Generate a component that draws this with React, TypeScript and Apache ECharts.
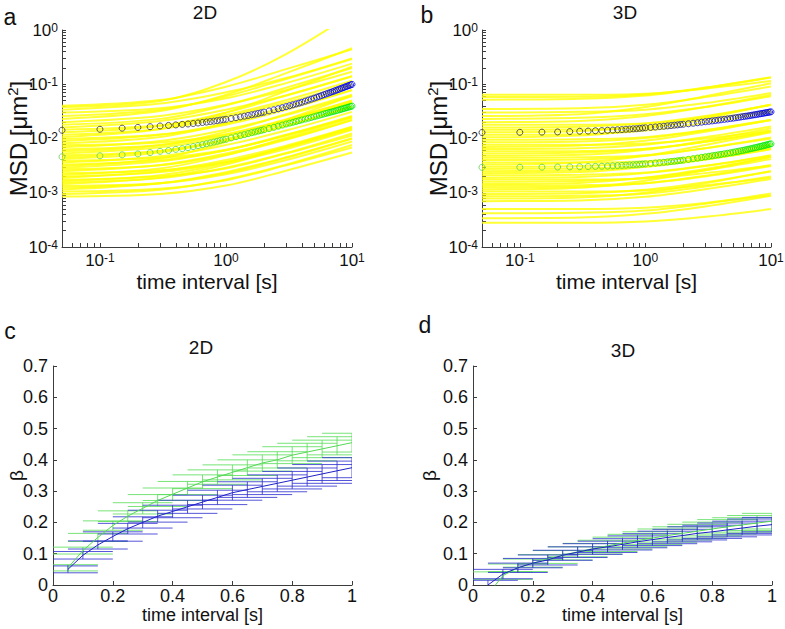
import React, { useEffect, useRef } from 'react';
import * as echarts from 'echarts';

const FONT = '"Liberation Sans", Arial, Helvetica, sans-serif';

// ---- panel a/b : individual MSD tracks (values at these lag times) ----
const trackTimes = [0.05, 0.3, 1, 3, 10];
const tracks2D = [
  [8.5e-4, 9.5e-4, 1.36e-3, 2.55e-3, 5.5e-3],
  [9.5e-4, 1.14e-3, 1.76e-3, 3.3e-3, 7.6e-3],
  [1.05e-3, 1.18e-3, 1.7e-3, 3.2e-3, 6.8e-3],
  [1.15e-3, 1.5e-3, 2.4e-3, 4.5e-3, 1.0e-2],
  [1.25e-3, 1.5e-3, 2.3e-3, 4.4e-3, 1.0e-2],
  [1.35e-3, 1.5e-3, 2.2e-3, 4.0e-3, 8.8e-3],
  [1.45e-3, 1.9e-3, 3.3e-3, 7.0e-3, 1.6e-2],
  [1.55e-3, 1.86e-3, 2.9e-3, 5.4e-3, 1.24e-2],
  [1.65e-3, 2.1e-3, 3.5e-3, 6.4e-3, 1.45e-2],
  [1.75e-3, 2.0e-3, 2.8e-3, 5.3e-3, 1.14e-2],
  [1.9e-3, 2.5e-3, 4.0e-3, 7.4e-3, 1.65e-2],
  [2.0e-3, 2.4e-3, 3.7e-3, 7.0e-3, 1.6e-2],
  [2.15e-3, 2.8e-3, 4.9e-3, 1.03e-2, 2.4e-2],
  [2.3e-3, 2.6e-3, 3.7e-3, 6.9e-3, 1.5e-2],
  [2.5e-3, 3.25e-3, 5.3e-3, 9.8e-3, 2.2e-2],
  [2.7e-3, 3.2e-3, 5.0e-3, 9.5e-3, 2.2e-2],
  [2.9e-3, 3.8e-3, 6.1e-3, 1.13e-2, 2.5e-2],
  [3.1e-3, 4.3e-3, 8.7e-3, 2.2e-2, 6.2e-2],
  [3.3e-3, 4.0e-3, 6.1e-3, 1.15e-2, 2.6e-2],
  [3.6e-3, 4.7e-3, 7.6e-3, 1.4e-2, 3.1e-2],
  [3.9e-3, 4.4e-3, 6.2e-3, 1.17e-2, 2.5e-2],
  [4.2e-3, 5.5e-3, 9.7e-3, 2.0e-2, 4.6e-2],
  [4.5e-3, 5.9e-3, 9.5e-3, 1.75e-2, 3.9e-2],
  [4.9e-3, 5.9e-3, 9.1e-3, 1.7e-2, 3.9e-2],
  [5.3e-3, 6.9e-3, 1.1e-2, 2.1e-2, 4.6e-2],
  [5.8e-3, 7.5e-3, 1.33e-2, 2.8e-2, 6.4e-2],
  [6.3e-3, 7.6e-3, 1.17e-2, 2.2e-2, 5.0e-2],
  [6.9e-3, 9.0e-3, 1.45e-2, 2.7e-2, 6.0e-2],
  [7.5e-3, 8.4e-3, 1.2e-2, 2.25e-2, 4.9e-2],
  [8.2e-3, 1.07e-2, 1.9e-2, 3.9e-2, 9.0e-2],
  [9.0e-3, 1.17e-2, 1.9e-2, 3.5e-2, 7.8e-2],
  [9.8e-3, 1.18e-2, 1.8e-2, 3.4e-2, 7.8e-2],
  [1.07e-2, 1.5e-2, 3.0e-2, 7.5e-2, 0.21],
  [1.17e-2, 1.5e-2, 2.5e-2, 4.6e-2, 0.1],
  [1.3e-2, 1.7e-2, 3.0e-2, 6.2e-2, 0.14],
  [1.45e-2, 1.75e-2, 2.7e-2, 5.1e-2, 0.116],
  [1.6e-2, 2.1e-2, 3.4e-2, 6.2e-2, 0.14],
  [1.8e-2, 2.3e-2, 4.1e-2, 8.6e-2, 0.2],
  [2.0e-2, 2.6e-2, 4.2e-2, 7.8e-2, 0.17],
  [2.3e-2, 3.2e-2, 6.4e-2, 0.16, 0.46],
  [2.6e-2, 3.4e-2, 6.0e-2, 0.125, 0.29],
  [3.0e-2, 3.6e-2, 5.5e-2, 0.105, 0.24],
  [3.4e-2, 4.4e-2, 7.1e-2, 0.13, 0.3],
  [3.8e-2, 4.9e-2, 0.11, 0.36, 2.0],
  [4.0e-2, 5.1e-2, 9.0e-2, 0.19, 0.44],
];
const tracks3D = [
  [2.8e-4, 2.8e-4, 2.95e-4, 3.6e-4, 5.0e-4],
  [3.4e-4, 3.5e-4, 4.1e-4, 5.6e-4, 8.8e-4],
  [4.2e-4, 4.3e-4, 4.7e-4, 6.3e-4, 9.7e-4],
  [5.0e-4, 5.0e-4, 5.3e-4, 6.5e-4, 9.0e-4],
  [7.0e-4, 7.2e-4, 8.4e-4, 1.16e-3, 1.8e-3],
  [7.8e-4, 8.2e-4, 1.0e-3, 1.5e-3, 2.5e-3],
  [8.6e-4, 8.8e-4, 9.6e-4, 1.3e-3, 2.0e-3],
  [9.5e-4, 9.8e-4, 1.14e-3, 1.57e-3, 2.5e-3],
  [1.05e-3, 1.05e-3, 1.1e-3, 1.37e-3, 1.9e-3],
  [1.15e-3, 1.24e-3, 1.67e-3, 2.6e-3, 4.6e-3],
  [1.25e-3, 1.29e-3, 1.5e-3, 2.06e-3, 3.25e-3],
  [1.35e-3, 1.38e-3, 1.5e-3, 2.0e-3, 3.1e-3],
  [1.45e-3, 1.52e-3, 1.9e-3, 2.75e-3, 4.6e-3],
  [1.6e-3, 1.65e-3, 1.9e-3, 2.6e-3, 4.2e-3],
  [1.75e-3, 1.75e-3, 1.84e-3, 2.3e-3, 3.15e-3],
  [1.9e-3, 1.96e-3, 2.3e-3, 3.1e-3, 4.9e-3],
  [2.1e-3, 2.14e-3, 2.35e-3, 3.15e-3, 4.8e-3],
  [2.3e-3, 2.4e-3, 3.0e-3, 4.4e-3, 7.4e-3],
  [2.5e-3, 2.6e-3, 3.0e-3, 4.1e-3, 6.5e-3],
  [2.75e-3, 2.8e-3, 3.1e-3, 4.1e-3, 6.3e-3],
  [3.0e-3, 3.1e-3, 3.6e-3, 5.0e-3, 7.8e-3],
  [3.3e-3, 3.6e-3, 4.8e-3, 7.6e-3, 1.3e-2],
  [3.6e-3, 3.6e-3, 3.8e-3, 4.7e-3, 6.5e-3],
  [4.0e-3, 4.1e-3, 4.8e-3, 6.6e-3, 1.04e-2],
  [4.4e-3, 4.5e-3, 4.9e-3, 6.6e-3, 1.0e-2],
  [4.8e-3, 5.0e-3, 6.2e-3, 9.1e-3, 1.55e-2],
  [5.3e-3, 5.5e-3, 6.4e-3, 8.7e-3, 1.38e-2],
  [5.8e-3, 5.9e-3, 6.5e-3, 8.7e-3, 1.33e-2],
  [6.4e-3, 6.6e-3, 7.7e-3, 1.06e-2, 1.66e-2],
  [7.0e-3, 7.4e-3, 9.1e-3, 1.33e-2, 2.2e-2],
  [7.7e-3, 7.7e-3, 8.1e-3, 1.0e-2, 1.4e-2],
  [8.5e-3, 8.8e-3, 1.02e-2, 1.4e-2, 2.2e-2],
  [9.5e-3, 9.7e-3, 1.06e-2, 1.43e-2, 2.2e-2],
  [1.05e-2, 1.13e-2, 1.52e-2, 2.4e-2, 4.2e-2],
  [1.17e-2, 1.2e-2, 1.4e-2, 1.93e-2, 3.0e-2],
  [1.3e-2, 1.37e-2, 1.7e-2, 2.5e-2, 4.2e-2],
  [1.45e-2, 1.48e-2, 1.62e-2, 2.2e-2, 3.3e-2],
  [1.6e-2, 1.65e-2, 1.9e-2, 2.6e-2, 4.2e-2],
  [1.8e-2, 1.8e-2, 1.9e-2, 2.35e-2, 3.2e-2],
  [2.0e-2, 2.1e-2, 2.6e-2, 3.8e-2, 6.4e-2],
  [2.3e-2, 2.4e-2, 2.8e-2, 3.8e-2, 6.0e-2],
  [2.6e-2, 2.8e-2, 3.8e-2, 6.0e-2, 0.104],
  [3.0e-2, 3.1e-2, 3.4e-2, 4.5e-2, 6.9e-2],
  [3.5e-2, 3.6e-2, 4.2e-2, 5.8e-2, 9.1e-2],
  [5.2e-2, 5.4e-2, 6.2e-2, 8.6e-2, 0.135],
  [5.8e-2, 5.9e-2, 6.5e-2, 8.7e-2, 0.133],
  [6.4e-2, 6.4e-2, 6.7e-2, 8.3e-2, 0.115],
];

// ---- panel a/b : averaged MSD (circles) ----
const lagTimes = [
  0.05, 0.1, 0.15, 0.2, 0.25, 0.3, 0.35, 0.4, 0.45, 0.5, 0.55, 0.6, 0.65, 0.7, 0.75, 0.8, 0.85, 0.9, 0.95, 1,
  1.1, 1.2, 1.3, 1.4, 1.5, 1.6, 1.7, 1.8, 1.9, 2,
  2.2, 2.4, 2.6, 2.8, 3, 3.2, 3.4, 3.6, 3.8, 4,
  4.25, 4.5, 4.75, 5, 5.25, 5.5, 5.75, 6, 6.25, 6.5, 6.75, 7, 7.25, 7.5, 7.75, 8, 8.25, 8.5, 8.75, 9, 9.25, 9.5, 9.75, 10,
];
const mean2D = [
  0.0142, 0.0148, 0.0155, 0.016, 0.0165, 0.017, 0.0174, 0.0178, 0.0182, 0.0185, 0.0189, 0.0193, 0.0197, 0.0201, 0.0205, 0.0209, 0.0213, 0.0218, 0.0222, 0.0226,
  0.0234, 0.0242, 0.025, 0.0258, 0.0266, 0.0274, 0.0282, 0.029, 0.0298, 0.0306,
  0.0322, 0.0338, 0.0354, 0.037, 0.0386, 0.0402, 0.0418, 0.0434, 0.045, 0.0466,
  0.0488, 0.051, 0.0532, 0.0554, 0.0576, 0.0598, 0.062, 0.0642, 0.0664, 0.0686, 0.0708, 0.073, 0.0752, 0.0774, 0.0796, 0.0818, 0.084, 0.0862, 0.0884, 0.0906, 0.0928, 0.095, 0.0972, 0.0994,
];
const median2D = [
  0.0046, 0.0048, 0.005, 0.0052, 0.0055, 0.0058, 0.006, 0.0063, 0.0065, 0.0068, 0.0071, 0.0074, 0.0077, 0.008, 0.0083, 0.0086, 0.0089, 0.0092, 0.0095, 0.0097,
  0.0103, 0.0108, 0.0113, 0.0118, 0.0123, 0.0128, 0.0132, 0.0137, 0.0141, 0.0145,
  0.0153, 0.0161, 0.0169, 0.0177, 0.0185, 0.0192, 0.0199, 0.0206, 0.0213, 0.022,
  0.0228, 0.0236, 0.0244, 0.0252, 0.026, 0.0268, 0.0276, 0.0284, 0.0291, 0.0298, 0.0305, 0.0312, 0.0319, 0.0326, 0.0333, 0.034, 0.0347, 0.0354, 0.0361, 0.0368, 0.0375, 0.0382, 0.0389, 0.0396,
];
const mean3D = [
  0.0129, 0.013, 0.0131, 0.0132, 0.0134, 0.0136, 0.0137, 0.0139, 0.014, 0.0142, 0.0143, 0.0145, 0.0146, 0.0148, 0.0149, 0.0151, 0.0152, 0.0154, 0.0156, 0.0158,
  0.016, 0.0163, 0.0166, 0.0168, 0.0171, 0.0173, 0.0176, 0.0178, 0.0181, 0.0183,
  0.0187, 0.0191, 0.0195, 0.02, 0.0204, 0.0207, 0.0211, 0.0214, 0.0218, 0.0221,
  0.0225, 0.0229, 0.0233, 0.0237, 0.0241, 0.0245, 0.0249, 0.0253, 0.0257, 0.026, 0.0264, 0.0268, 0.0272, 0.0275, 0.0279, 0.0283, 0.0286, 0.029, 0.0293, 0.0297, 0.03, 0.0303, 0.0307, 0.031,
];
const median3D = [
  0.00294, 0.00295, 0.00296, 0.00298, 0.003, 0.00302, 0.00304, 0.00306, 0.00308, 0.0031, 0.00313, 0.00316, 0.00319, 0.00322, 0.00325, 0.00328, 0.00331, 0.00334, 0.00337, 0.0034,
  0.00346, 0.00352, 0.00358, 0.00364, 0.0037, 0.00376, 0.00382, 0.00388, 0.00394, 0.004,
  0.00412, 0.00424, 0.00436, 0.00448, 0.0046, 0.0047, 0.0048, 0.0049, 0.005, 0.0051,
  0.00522, 0.00534, 0.00546, 0.00558, 0.0057, 0.00582, 0.00594, 0.00606, 0.00618, 0.0063, 0.00642, 0.00654, 0.00666, 0.00678, 0.0069, 0.00702, 0.00714, 0.00726, 0.00738, 0.0075, 0.00762, 0.00774, 0.00786, 0.00798,
];

// ---- panel c/d : beta with error bars ----
const betaTimes = [0.05, 0.1, 0.15, 0.2, 0.25, 0.3, 0.35, 0.4, 0.45, 0.5, 0.55, 0.6, 0.65, 0.7, 0.75, 0.8, 0.85, 0.9, 0.95, 1];
const beta2DBlue = [0.05, 0.095, 0.128, 0.155, 0.18, 0.2, 0.22, 0.235, 0.25, 0.265, 0.28, 0.295, 0.305, 0.315, 0.325, 0.335, 0.345, 0.355, 0.365, 0.375];
const beta2DBlueErr = [0.011, 0.012, 0.013, 0.015, 0.017, 0.018, 0.019, 0.02, 0.021, 0.022, 0.023, 0.024, 0.025, 0.026, 0.027, 0.028, 0.029, 0.03, 0.031, 0.032];
const beta2DGreen = [0.055, 0.11, 0.152, 0.19, 0.22, 0.245, 0.27, 0.29, 0.31, 0.33, 0.345, 0.36, 0.375, 0.39, 0.4, 0.415, 0.425, 0.435, 0.445, 0.455];
const beta2DGreenErr = [0.01, 0.011, 0.013, 0.015, 0.017, 0.018, 0.019, 0.02, 0.021, 0.022, 0.023, 0.024, 0.025, 0.026, 0.026, 0.027, 0.028, 0.028, 0.029, 0.03];
const beta3DBlue = [0.0, 0.035, 0.055, 0.07, 0.08, 0.095, 0.105, 0.115, 0.122, 0.13, 0.138, 0.145, 0.152, 0.158, 0.165, 0.17, 0.176, 0.182, 0.188, 0.193];
const beta3DBlueErr = [0.015, 0.015, 0.015, 0.015, 0.016, 0.016, 0.017, 0.017, 0.018, 0.018, 0.019, 0.019, 0.02, 0.02, 0.021, 0.021, 0.022, 0.022, 0.023, 0.023];
const beta3DGreen = [-0.03, 0.03, 0.055, 0.07, 0.083, 0.095, 0.106, 0.116, 0.125, 0.134, 0.142, 0.15, 0.158, 0.165, 0.172, 0.179, 0.186, 0.192, 0.198, 0.204];
const beta3DGreenErr = [0.015, 0.012, 0.012, 0.013, 0.014, 0.015, 0.016, 0.017, 0.018, 0.019, 0.02, 0.02, 0.021, 0.021, 0.022, 0.022, 0.023, 0.023, 0.024, 0.025];

const xPowerLabels = [0.1, 1, 10];
const yPowerLabels = [1e-4, 1e-3, 1e-2, 1e-1, 1];

function logTicks(lo: number, hi: number) {
  const out: number[] = [];
  for (let e = Math.floor(Math.log10(lo)); e <= Math.ceil(Math.log10(hi)); e++) {
    for (let m = 1; m < 10; m++) {
      const v = m * Math.pow(10, e);
      if (v >= lo * 0.9999 && v <= hi * 1.0001) out.push(v);
    }
  }
  return out;
}

function hexToRgb(h: string) {
  return [parseInt(h.slice(1, 3), 16), parseInt(h.slice(3, 5), 16), parseInt(h.slice(5, 7), 16)];
}
function rampColor(stops: [number, string][], t: number) {
  const lt = Math.log10(t);
  if (t <= stops[0][0]) return stops[0][1];
  for (let i = 1; i < stops.length; i++) {
    if (t <= stops[i][0]) {
      const a = Math.log10(stops[i - 1][0]), b = Math.log10(stops[i][0]);
      const f = (lt - a) / (b - a);
      const c1 = hexToRgb(stops[i - 1][1]), c2 = hexToRgb(stops[i][1]);
      const c = c1.map((v, k) => Math.round(v + (c2[k] - v) * f));
      return `rgb(${c[0]},${c[1]},${c[2]})`;
    }
  }
  return stops[stops.length - 1][1];
}
const blueRamp: [number, string][] = [[0.05, '#2e2e2e'], [0.5, '#33333c'], [1, '#383868'], [2, '#2424b0'], [3, '#1010d8'], [10, '#0000e6']];
const greenRamp: [number, string][] = [[0.05, '#66cc44'], [1, '#44d838'], [3, '#18e418'], [10, '#00e800']];

const powRich = {
  b: { fontSize: 17, fontFamily: FONT, color: '#111', lineHeight: 16 },
  s: { fontSize: 12, fontFamily: FONT, color: '#111', lineHeight: 10, verticalAlign: 'top' },
};
const powLabel = (v: number) => `{b|10}{s|${Math.round(Math.log10(v))}}`;

const AXIS_COLOR = '#3c3c3c';

function logPanel(idx: number, tracks: number[][], mean: number[], median: number[]) {
  const xAxis = {
    type: 'log', logBase: 10, gridIndex: idx, min: 0.05, max: 10,
    name: 'time interval [s]', nameLocation: 'middle', nameGap: 24, nameMoveOverlap: false,
    nameTextStyle: { fontFamily: FONT, fontSize: 21, color: '#111', lineHeight: 21 },
    axisLine: { show: true, lineStyle: { color: AXIS_COLOR, width: 1 } },
    axisTick: { show: true, inside: true, length: 4, customValues: logTicks(0.05, 10), lineStyle: { color: AXIS_COLOR } },
    axisLabel: { customValues: xPowerLabels, formatter: powLabel, rich: powRich, margin: 5 },
    splitLine: { show: false },
  };
  const yAxis = {
    type: 'log', logBase: 10, gridIndex: idx, min: 1e-4, max: 1,
    name: '{n|MSD [μm}{s|2}{n|]}', nameLocation: 'middle', nameGap: 30, nameMoveOverlap: false,
    nameTextStyle: {
      rich: {
        n: { fontFamily: FONT, fontSize: 24, color: '#111', lineHeight: 27 },
        s: { fontFamily: FONT, fontSize: 15, color: '#111', lineHeight: 15, verticalAlign: 'top' },
      },
    },
    axisLine: { show: true, lineStyle: { color: AXIS_COLOR, width: 1 } },
    axisTick: { show: true, inside: true, length: 4, customValues: logTicks(1e-4, 1), lineStyle: { color: AXIS_COLOR } },
    axisLabel: { customValues: yPowerLabels, formatter: powLabel, rich: powRich, margin: 4 },
    splitLine: { show: false },
  };
  const series: any[] = tracks.map((row) => ({
    type: 'line', xAxisIndex: idx, yAxisIndex: idx, silent: true, symbol: 'none', showSymbol: false,
    clip: true, z: 1, smooth: 0.35,
    lineStyle: { color: '#ffff00', width: 2, opacity: 0.8 },
    data: trackTimes.map((t, k) => [t, row[k]]),
  }));
  const circles = (vals: number[], ramp: [number, string][]) => ({
    type: 'scatter', xAxisIndex: idx, yAxisIndex: idx, silent: true, symbol: 'circle', symbolSize: 6, z: 3,
    clip: false,
    itemStyle: { color: 'rgba(255,255,255,0)', borderWidth: 1 },
    data: lagTimes.map((t, i) => ({ value: [t, vals[i]], itemStyle: { borderColor: rampColor(ramp, t) } })),
  });
  series.push(circles(median, greenRamp));
  series.push(circles(mean, blueRamp));
  return { xAxis, yAxis, series };
}

const CAP_HALF = 0.1;

function errorBars(idx: number, vals: number[], errs: number[], color: string) {
  return {
    type: 'custom', xAxisIndex: idx, yAxisIndex: idx, silent: true, z: 2, clip: true,
    data: betaTimes.map((t, i) => [t, vals[i], errs[i]]),
    renderItem: (params: any, api: any) => {
      const x = api.value(0), y = api.value(1), e = api.value(2);
      const lo = y - e, hi = y + e;
      const st = { stroke: color, lineWidth: 1, opacity: 0.8 };
      const children: any[] = [];
      const yl = Math.max(0, lo), yh = Math.min(0.7, hi);
      const p1 = api.coord([x, yl]), p2 = api.coord([x, yh]);
      children.push({ type: 'line', shape: { x1: p1[0], y1: p1[1], x2: p2[0], y2: p2[1] }, style: st });
      const xl = Math.max(0, x - CAP_HALF), xr = Math.min(1, x + CAP_HALF);
      [lo, hi].forEach((yy) => {
        if (yy < 0 || yy > 0.7) return;
        const a = api.coord([xl, yy]), b = api.coord([xr, yy]);
        children.push({ type: 'line', shape: { x1: a[0], y1: a[1], x2: b[0], y2: b[1] }, style: st });
      });
      return { type: 'group', children };
    },
  };
}

function betaPanel(idx: number, blue: number[], blueErr: number[], green: number[], greenErr: number[], gap: number) {
  const xAxis = {
    type: 'value', gridIndex: idx, min: 0, max: 1, interval: 0.2,
    name: 'time interval [s]', nameLocation: 'middle', nameGap: 21, nameMoveOverlap: false,
    nameTextStyle: { fontFamily: FONT, fontSize: 18, color: '#111', lineHeight: 18 },
    axisLine: { show: true, lineStyle: { color: AXIS_COLOR, width: 1 } },
    axisTick: { show: true, inside: true, length: 4, lineStyle: { color: AXIS_COLOR } },
    axisLabel: { fontFamily: FONT, fontSize: 18, color: '#111', margin: 3, lineHeight: 15 },
    splitLine: { show: false },
  };
  const yAxis = {
    type: 'value', gridIndex: idx, min: 0, max: 0.7, interval: 0.1,
    name: 'β', nameLocation: 'middle', nameGap: gap, nameMoveOverlap: false,
    nameTextStyle: { fontFamily: FONT, fontSize: 19, color: '#111' },
    axisLine: { show: true, lineStyle: { color: AXIS_COLOR, width: 1 } },
    axisTick: { show: true, inside: true, length: 4, lineStyle: { color: AXIS_COLOR } },
    axisLabel: { fontFamily: FONT, fontSize: 18, color: '#111', margin: 5 },
    splitLine: { show: false },
  };
  const line = (vals: number[], color: string) => ({
    type: 'line', xAxisIndex: idx, yAxisIndex: idx, silent: true, symbol: 'none', showSymbol: false, clip: true, z: 3,
    lineStyle: { color, width: 1 },
    data: betaTimes.map((t, i) => [t, vals[i]]),
  });
  const series = [
    errorBars(idx, green, greenErr, '#55dd55'),
    errorBars(idx, blue, blueErr, '#2a2ad0'),
    line(green, '#55d855'),
    line(blue, '#2020c8'),
  ];
  return { xAxis, yAxis, series };
}

function txt(text: string, x: number, y: number, size: number) {
  return {
    type: 'text', x, y, silent: true,
    style: { text, fontFamily: FONT, fontSize: size, fill: '#111', align: 'center', verticalAlign: 'middle' },
  };
}

export default function App() {
  const ref = useRef<HTMLDivElement>(null);
  useEffect(() => {
    if (!ref.current) return;
    const chart = echarts.init(ref.current, undefined, { renderer: 'svg' });
    const pa = logPanel(0, tracks2D, mean2D, median2D);
    const pb = logPanel(1, tracks3D, mean3D, median3D);
    const pc = betaPanel(2, beta2DBlue, beta2DBlueErr, beta2DGreen, beta2DGreenErr, 27);
    const pd = betaPanel(3, beta3DBlue, beta3DBlueErr, beta3DGreen, beta3DGreenErr, 34);
    chart.setOption({
      animation: false,
      backgroundColor: '#ffffff',
      grid: [
        { left: 62, top: 30, width: 290, height: 217, containLabel: false, outerBoundsMode: 'none' },
        { left: 482, top: 30, width: 289, height: 217, containLabel: false, outerBoundsMode: 'none' },
        { left: 53, top: 366, width: 299, height: 219, containLabel: false, outerBoundsMode: 'none' },
        { left: 473, top: 366, width: 299, height: 219, containLabel: false, outerBoundsMode: 'none' },
      ],
      xAxis: [pa.xAxis, pb.xAxis, pc.xAxis, pd.xAxis],
      yAxis: [pa.yAxis, pb.yAxis, pc.yAxis, pd.yAxis],
      series: [...pa.series, ...pb.series, ...pc.series, ...pd.series],
      graphic: [
        txt('a', 10, 17, 23),
        txt('b', 427, 15, 23),
        txt('c', 10, 331, 23),
        txt('d', 425, 325, 23),
        txt('2D', 205, 12, 19),
        txt('3D', 625, 12, 19),
        txt('2D', 201, 347, 19),
        txt('3D', 623, 350, 19),
      ],
    });
    return () => chart.dispose();
  }, []);
  return <div ref={ref} style={{ position: 'absolute', left: 0, top: 0, width: 785, height: 629 }} />;
}
